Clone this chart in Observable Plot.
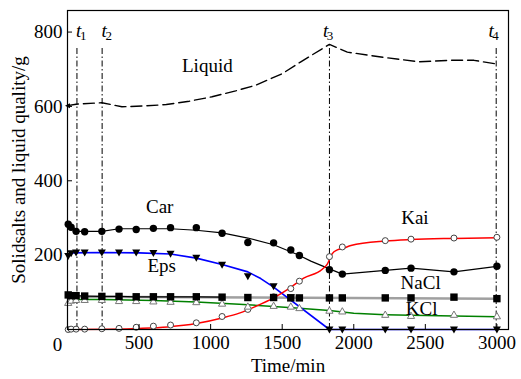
<!DOCTYPE html>
<html>
<head>
<meta charset="utf-8">
<script src="https://cdn.jsdelivr.net/npm/d3@7"></script>
<script src="https://cdn.jsdelivr.net/npm/@observablehq/plot@0.6"></script>
<style>
  html, body { margin: 0; padding: 0; background: white; }
  svg, svg text { font-family: "Liberation Serif", "Times New Roman", Times, serif !important; }
</style>
</head>
<body>
<div id="chart"></div>
<script>
// ---- sample times (min) ----
const time = [5, 25, 60, 120, 240, 360, 480, 600, 720, 900, 1080, 1260, 1440, 1560, 1620, 1830, 1920, 2220, 2400, 2700, 3000];
// ---- measured solids (g) ----
const car  = [283, 275, 264, 263, 264, 270, 269, 272, 274, 274, 259, 234, 233, 214, 199, 161, 149, 159, 165, 155, 170];
const eps  = [198, 205, 207, 207, 207, 207, 207, 206, 204, 193, 174, 143, 116, 87, null, 0, 0, 0, 0, 0, 0];
const nacl = [93, 91, 91, 90, 89, 89, 88, 88, 88, 88, 87, 86, 86, 85, 85, 85, 85, 85, 85, 87, 83];
const kcl  = [72, 78, 80, 80, 80, 77, 77, 76, 75, 74, 70, 62, 64, 62, 58, 51, 49, 40, 37, 40, 36];
const kai  = [0, 1, 1, 1, 2, 3, 6, 9, 12, 18, 35, 54, 88, 110, 130, 196, 222, 239, 243, 246, 248];

// ---- fitted / guide curves ----
const carLineT = [5, 60, 240, 360, 720, 900, 1080, 1260, 1440, 1610, 1700, 1830, 1920, 2220, 2400, 2700, 3000];
const carLineV = [280, 264, 264, 271, 271, 267, 260, 246, 228, 201, 184, 163, 149, 159, 165, 155, 170];
const epsLineT = [5, 30, 240, 500, 720, 900, 1080, 1260, 1350, 1440, 1830, 3000];
const epsLineV = [200, 206, 207, 206, 203, 192, 175, 155, 137, 114, 0, 0];
const kclLineT = [5, 60, 240, 600, 900, 1200, 1440, 1620, 1830, 2000, 2220, 2400, 2700, 3000];
const kclLineV = [72, 81, 81, 78, 74, 68, 62, 57, 51, 44, 40, 38, 36, 34];
const naclGrayT = [5, 3000];
const naclGrayV = [88, 83];
const naclBlackT = [5, 25, 60, 120, 240, 360, 480, 600, 720, 900, 1080];
const naclBlackV = [93, 91, 91, 90, 89, 89, 88, 88, 88, 88, 87];
const kaiLineT = [5, 300, 500, 700, 900, 1080, 1200, 1314, 1440, 1547, 1650, 1780, 1815, 1850, 1885, 1930, 1980, 2220, 2400, 2700, 3000];
const kaiLineV = [0, 1, 3, 7, 16, 31, 44, 62, 85, 110, 138, 162, 176, 204, 214, 219, 226, 238, 242, 245, 247];
const liqT = [0, 60, 240, 380, 520, 690, 850, 1010, 1175, 1315, 1500, 1630, 1830, 1955, 2190, 2460, 2680, 2840, 3000];
const liqV = [602, 606, 610, 599, 601, 605, 614, 626, 642, 657, 688, 720, 767, 746, 733, 720, 724, 724, 714];

// ---- stage markers ----
const tStage = [66, 242, 1830, 2995];
const tStageTop = [760, 760, 767, 760];
const tStageSub = ["1", "2", "3", "4"];
const tLabelX = [78, 256, 1803, 2959];
const tLabelY = 802;

// ---- series labels ----
const seriesLabel = ["Liquid", "Car", "Eps", "Kai", "NaCl", "KCl"];
const seriesLabelX = [977, 644, 658, 2427, 2467, 2474];
const seriesLabelY = [710, 329, 170, 299, 124, 56];

// ---- axis ticks ----
const xTicks = [0, 500, 1000, 1500, 2000, 2500, 3000];
const yTicks = [200, 400, 600, 800];

const pts = (ys) => time.map((t, i) => ({t, v: ys[i]})).filter(d => d.v != null);
const line = (ts, vs) => ts.map((t, i) => ({t, v: vs[i]}));

const triDown = {draw(ctx, size) { const r = Math.sqrt(size / Math.PI); ctx.moveTo(-r, -0.75 * r); ctx.lineTo(r, -0.75 * r); ctx.lineTo(0, r); ctx.closePath(); }};
const triUp = {draw(ctx, size) { const r = Math.sqrt(size / Math.PI); ctx.moveTo(0, -r); ctx.lineTo(r, 0.75 * r); ctx.lineTo(-r, 0.75 * r); ctx.closePath(); }};
const sq = {draw(ctx, size) { const r = Math.sqrt(size / Math.PI); ctx.rect(-r, -r, 2 * r, 2 * r); }};
const triLeft = {draw(ctx, size) { const r = Math.sqrt(size / Math.PI); ctx.moveTo(-r, 0); ctx.lineTo(r, -r); ctx.lineTo(r, r); ctx.closePath(); }};

const FF = "Liberation Serif";
const FS = 19;
const W = 521, H = 379;
const chart = Plot.plot({
  width: W, height: H,
  marginTop: 10, marginRight: 13, marginBottom: 50, marginLeft: 67,
  style: {fontFamily: FF, fontSize: "19px", background: "white", color: "black", overflow: "visible"},
  x: {domain: [0, 3081]},
  y: {domain: [0, 858]},
  marks: [
    // stage lines
    Plot.ruleX(tStage.map((t, i) => ({t, top: tStageTop[i]})), {x: "t", y1: 0, y2: "top", stroke: "black", strokeWidth: 1, strokeDasharray: "6,2.5,1.5,2.5"}),
    // curves
    Plot.line(line(liqT, liqV), {x: "t", y: "v", stroke: "black", strokeWidth: 1.4, strokeDasharray: "11,5"}),
    Plot.dot([{t: 0, v: 602}], {x: "t", y: "v", symbol: triLeft, r: 2.5, fill: "black"}),
    Plot.line(line(naclGrayT, naclGrayV), {x: "t", y: "v", stroke: "#a0a0a0", strokeWidth: 2.5}),
    Plot.line(line(naclBlackT, naclBlackV), {x: "t", y: "v", stroke: "black", strokeWidth: 1.2}),
    Plot.line(line(kclLineT, kclLineV), {x: "t", y: "v", stroke: "#008000", strokeWidth: 1.5}),
    Plot.line(line(carLineT, carLineV), {x: "t", y: "v", stroke: "black", strokeWidth: 1.2}),
    Plot.line(line(epsLineT, epsLineV), {x: "t", y: "v", stroke: "#0000ff", strokeWidth: 1.6}),
    Plot.line(line(kaiLineT, kaiLineV), {x: "t", y: "v", stroke: "#ff0000", strokeWidth: 1.5, curve: "monotone-x"}),
    // markers
    Plot.dot(pts(kai), {x: "t", y: "v", r: 3, fill: "white", stroke: "#444", strokeWidth: 1}),
    Plot.dot(pts(kcl), {x: "t", y: "v", symbol: triUp, r: 3.6, fill: "white", stroke: "#777", strokeWidth: 1}),
    Plot.dot(pts(eps), {x: "t", y: "v", symbol: triDown, r: 4, fill: "black"}),
    Plot.dot(pts(nacl), {x: "t", y: "v", symbol: sq, r: 3.7, fill: "black"}),
    Plot.dot(pts(car), {x: "t", y: "v", r: 3.7, fill: "black"}),
    // frame and axes
    Plot.frame({stroke: "black", strokeWidth: 1.2}),
    Plot.tickX(xTicks, {x: d => d, stroke: "black", insetTop: 314}),
    Plot.tickY(yTicks, {y: d => d, stroke: "black", insetRight: 436}),
    Plot.axisX(xTicks.slice(1), {tickSize: 0, tickPadding: 6, label: null, fontSize: FS, fontFamily: FF, tickFormat: d => String(d)}),
    Plot.text([0], {x: d => d, y: 0, dx: -10, dy: 15, text: () => "0", fontSize: FS, fontFamily: FF}),
    Plot.axisY(yTicks, {tickSize: 0, tickPadding: 5, label: null, fontSize: FS, fontFamily: FF, tickFormat: d => String(d)}),
    Plot.text(["Time/min"], {frameAnchor: "bottom", dy: 36, lineAnchor: "middle", textAnchor: "middle", text: d => d, fontSize: FS, fontFamily: FF}),
    Plot.text(["Solidsalts and liquid quality/g"], {frameAnchor: "left", dx: -49, rotate: -90, textAnchor: "middle", lineAnchor: "middle", text: d => d, fontSize: FS, fontFamily: FF}),
    // annotations
    Plot.text(seriesLabel.map((s, i) => ({s, x: seriesLabelX[i], y: seriesLabelY[i]})), {x: "x", y: "y", text: "s", fontSize: FS, fontFamily: FF}),
    Plot.text(tLabelX, {x: d => d, y: tLabelY, text: () => "t", fontStyle: "italic", fontSize: 19, fontFamily: FF}),
    Plot.text(tLabelX.map((x, i) => ({x, s: tStageSub[i]})), {x: "x", y: tLabelY, text: "s", dx: 4.5, dy: 5, fontSize: 13, fontFamily: FF})
  ]
});
document.getElementById("chart").appendChild(chart);
</script>
</body>
</html>
